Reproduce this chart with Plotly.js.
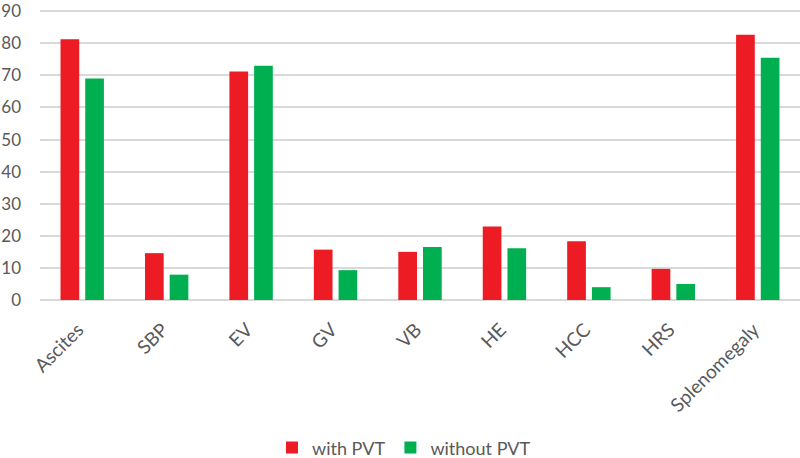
<!DOCTYPE html>
<html>
<head>
<meta charset="utf-8">
<script src="https://cdn.plot.ly/plotly-3.0.1.min.js"></script>
<style>html,body{margin:0;padding:0;background:#fff;}#chart{width:800px;height:458px;}</style>
</head>
<body>
<div id="chart"></div>
<script>
const categories = ["Ascites","SBP","EV","GV","VB","HE","HCC","HRS","Splenomegaly"];
const withPVT = [81.3, 14.6, 71.2, 15.7, 15.0, 22.9, 18.3, 9.7, 82.7];
const withoutPVT = [69.0, 7.9, 73.0, 9.3, 16.5, 16.1, 4.0, 5.0, 75.5];
const yTicks = [0,10,20,30,40,50,60,70,80,90];

const font = "Lato, 'Open Sans', sans-serif";
const data = [
  {type:'bar', name:'with PVT', x:categories, y:withPVT, marker:{color:'#ED1C24'}},
  {type:'bar', name:'without PVT', x:categories, y:withoutPVT, marker:{color:'#00B050'}}
];
const layout = {
  width:800, height:458,
  margin:{l:40, r:0, t:0, b:158},
  paper_bgcolor:'#fff', plot_bgcolor:'#fff',
  barmode:'group', bargap:0.415, bargroupgap:0.243,
  font:{family:font, color:'#595959', size:16},
  xaxis:{tickangle:-45, showgrid:false, zeroline:false, showline:false, ticks:'',
         ticklabelstandoff:14, ticklabelshift:-4,
         tickfont:{family:font, size:19, color:'#595959'}},
  yaxis:{range:[0,93.5], tickvals:yTicks, showgrid:true, gridcolor:'#d9d9d9', gridwidth:2,
         zeroline:true, zerolinecolor:'#d9d9d9', zerolinewidth:2, showline:false, ticks:'',
         ticklabeloverflow:'allow',
         ticklabelstandoff:18, tickfont:{family:font, size:17, color:'#595959'}},
  showlegend:true,
  legend:{orientation:'h', xref:'container', yref:'container', x:0.505, y:0.022,
          xanchor:'center', yanchor:'middle', font:{family:font, size:18, color:'#595959'},
          itemwidth:30}
};
Plotly.newPlot('chart', data, layout, {displayModeBar:false, staticPlot:true});
</script>
</body>
</html>
